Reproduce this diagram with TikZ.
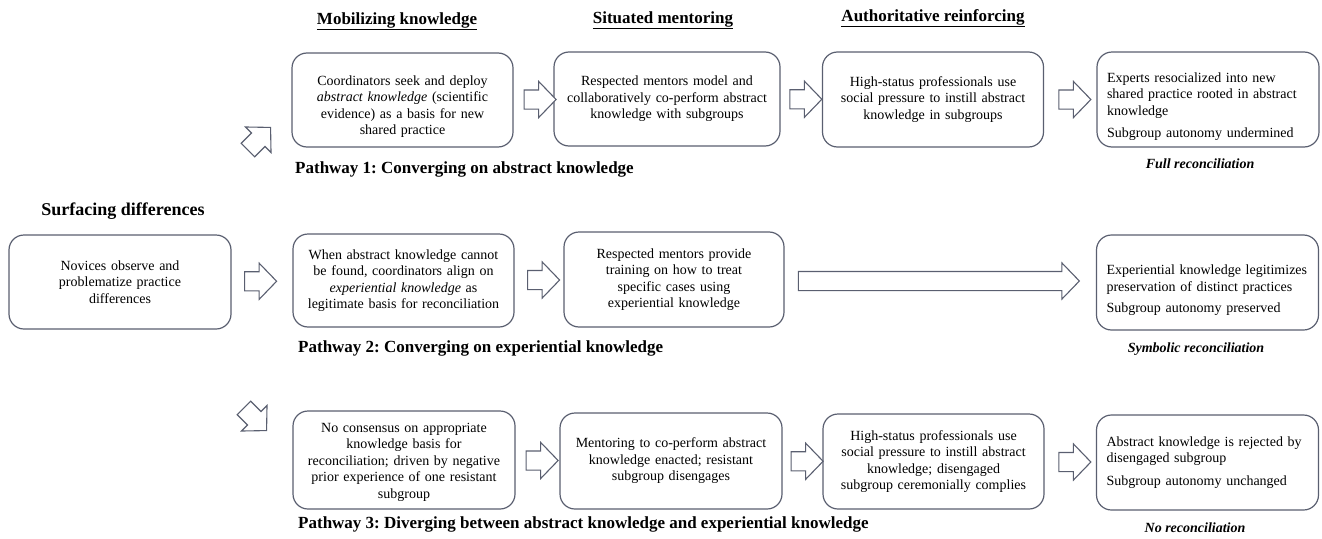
\documentclass[tikz,border=0pt]{standalone}
\usepackage{fontspec}
\setmainfont{Liberation Serif}
\usetikzlibrary{shapes.arrows,calc}
\definecolor{edge}{HTML}{5A5F70}
\frenchspacing
% pushes the text block of a box down by half the given extra height
\newcommand{\topgap}[1]{\rule{0pt}{#1}}

\tikzset{
  box/.style={draw=edge, line width=1.2pt, rounded corners=15pt, fill=white,
    minimum width=221pt, minimum height=95pt, text width=205pt, inner xsep=8pt,
    inner ysep=4pt, align=center, font=\fontsize{14}{16.5}\selectfont},
  lbox/.style={box, align=left, text width=202pt, inner xsep=10pt},
  blk/.style={draw=edge, line width=1.1pt, fill=white, single arrow,
    single arrow head extend=8.5pt, single arrow tip angle=92,
    minimum height=32pt, inner xsep=0pt, inner ysep=9pt},
  colhead/.style={font=\fontsize{17}{20}\selectfont\bfseries},
  pathlabel/.style={anchor=west, inner sep=0pt, font=\fontsize{17}{20}\selectfont\bfseries},
  outcome/.style={inner sep=0pt, font=\fontsize{14}{16}\selectfont\bfseries\itshape},
}

\begin{document}
\begin{tikzpicture}[x=1pt, y=-1pt]
\useasboundingbox (0,0) rectangle (1322,538);

% column headings
\node[colhead] (h1) at (397,21) {\underline{Mobilizing knowledge}};
\node[colhead] (h2) at (663,20) {\underline{Situated mentoring}};
\node[colhead] (h3) at (933,18) {\underline{Authoritative reinforcing}};

% starting point
\node[font=\fontsize{18}{21}\selectfont\bfseries] (surf) at (123,211) {Surfacing differences};
\node[box, minimum width=222pt, minimum height=94pt] (b0) at (120,282)
  {Novices observe and\\ problematize practice\\ differences};

% pathway 1
\node[box, minimum height=94pt] (b1) at (402.5,100)
  {\topgap{23pt}Coordinators seek and deploy\\ \textit{abstract knowledge} (scientific\\ evidence) as a basis for new\\ shared practice};
\node[box, minimum width=226pt, text width=210pt, minimum height=94pt] (b2) at (667,99)
  {Respected mentors model and\\ collaboratively co-perform abstract\\ knowledge with subgroups};
\node[box] (b3) at (933,99.5)
  {High-status professionals use\\ social pressure to instill abstract\\ knowledge in subgroups};
\node[lbox, minimum width=222pt] (b4) at (1208,99.5)
  {\topgap{24pt}Experts resocialized into new\\ shared practice rooted in abstract\\ knowledge\\[6pt] Subgroup autonomy undermined};
\node[pathlabel] (p1) at (295,169) {Pathway 1: Converging on abstract knowledge};
\node[outcome] (o1) at (1200,164) {Full reconciliation};

% pathway 2
\node[box, minimum height=93pt] (b5) at (403.5,280.5)
  {When abstract knowledge cannot\\ be found, coordinators align on\\ \textit{experiential knowledge} as\\ legitimate basis for reconciliation};
\node[box, minimum width=220pt, text width=204pt] (b6) at (674,279.5)
  {Respected mentors provide\\ training on how to treat\\ specific cases using\\ experiential knowledge};
\node[lbox] (b7) at (1207.5,282.5)
  {\topgap{26pt}\mbox{Experiential knowledge legitimizes}\\ preservation of distinct practices\\[5pt] Subgroup autonomy preserved};
\node[pathlabel] (p2) at (298,348) {Pathway 2: Converging on experiential knowledge};
\node[outcome] (o2) at (1196,349) {Symbolic reconciliation};

% pathway 3
\node[box, minimum width=222pt, text width=206pt, minimum height=98pt] (b8) at (404,460)
  {\topgap{14pt}No consensus on appropriate\\ knowledge basis for\\ reconciliation; driven by negative\\ prior experience of one resistant\\ subgroup};
\node[box, minimum width=222pt, text width=206pt, minimum height=96pt] (b9) at (671,461)
  {Mentoring to co-perform abstract\\ knowledge enacted; resistant\\ subgroup disengages};
\node[box] (b10) at (933.5,461.5)
  {High-status professionals use\\ social pressure to instill abstract\\ knowledge; disengaged\\ subgroup ceremonially complies};
\node[lbox] (b11) at (1207.5,462.5)
  {Abstract knowledge is rejected by\\ disengaged subgroup\\[6pt] Subgroup autonomy unchanged};
\node[pathlabel] (p3) at (298,524) {Pathway 3: Diverging between abstract knowledge and experiential knowledge};
\node[outcome] (o3) at (1195,528) {No reconciliation};

% block arrows between steps
\node[blk, rotate=45]  (a1u) at (256,142) {};
\node[blk, rotate=-45] (a1d) at (252,416) {};
\node[blk] (a0) at ($(b0.east)!0.5!(b5.west)+(-6,0)$) {};
\node[blk] (a1) at ($(b1.east)!0.5!(b2.west)+(2,0)$) {};
\node[blk] (a2) at ($(b2.east)!0.5!(b3.west)$) {};
\node[blk] (a3) at ($(b3.east)!0.5!(b4.west)$) {};
\node[blk] (a4) at ($(b5.east)!0.5!(b6.west)$) {};
\node[blk, minimum height=281pt] (a5) at ($(b6.east)!0.5!(b7.west)+(-6,0)$) {};
\node[blk] (a6) at ($(b8.east)!0.5!(b9.west)$) {};
\node[blk] (a7) at ($(b9.east)!0.5!(b10.west)$) {};
\node[blk] (a8) at ($(b10.east)!0.5!(b11.west)$) {};
\end{tikzpicture}
\end{document}
